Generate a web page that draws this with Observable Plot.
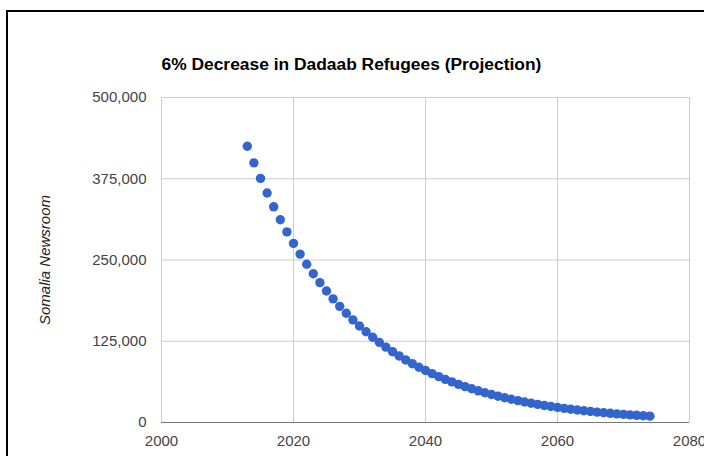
<!DOCTYPE html>
<html>
<head>
<meta charset="utf-8">
<script src="https://cdn.jsdelivr.net/npm/d3@7"></script>
<script src="https://cdn.jsdelivr.net/npm/@observablehq/plot@0.6"></script>
<style>
  html, body { margin: 0; padding: 0; background: #fff; overflow: hidden; width: 704px; height: 456px; }
  #wrap { position: relative; width: 704px; height: 456px; }
  #border { position: absolute; left: 6px; top: 10px; width: 900px; height: 700px; border: 2px solid #000; box-sizing: border-box; }
  #chart { position: absolute; left: 0; top: 0; }
</style>
</head>
<body>
<div id="wrap">
  <div id="border"></div>
  <div id="chart"></div>
</div>
<script>
const title = "6% Decrease in Dadaab Refugees (Projection)";
const yLabel = "Somalia Newsroom";
const years = [2013, 2014, 2015, 2016, 2017, 2018, 2019, 2020, 2021, 2022,
  2023, 2024, 2025, 2026, 2027, 2028, 2029, 2030, 2031, 2032,
  2033, 2034, 2035, 2036, 2037, 2038, 2039, 2040, 2041, 2042,
  2043, 2044, 2045, 2046, 2047, 2048, 2049, 2050, 2051, 2052,
  2053, 2054, 2055, 2056, 2057, 2058, 2059, 2060, 2061, 2062,
  2063, 2064, 2065, 2066, 2067, 2068, 2069, 2070, 2071, 2072,
  2073, 2074];
const refugees = [425000, 399500, 375530, 352998, 331818, 311909, 293195, 275603, 259067, 243523,
  228911, 215177, 202266, 190130, 178722, 167999, 157919, 148444, 139537, 131165,
  123295, 115897, 108944, 102407, 96263, 90487, 85058, 79954, 75157, 70648,
  66409, 62424, 58679, 55158, 51849, 48738, 45813, 43065, 40481, 38052,
  35769, 33623, 31605, 29709, 27926, 26251, 24676, 23195, 21803, 20495,
  19266, 18110, 17023, 16002, 15042, 14139, 13291, 12493, 11744, 11039,
  10377, 9754];
const xTicks = [2000, 2020, 2040, 2060, 2080];
const yTicks = [0, 125000, 250000, 375000, 500000];

const data = years.map((year, i) => ({year, value: refugees[i]}));
const fmt = d3.format(",");

const chart = Plot.plot({
  width: 704,
  height: 456,
  marginLeft: 161,
  marginRight: 15,
  marginTop: 97,
  marginBottom: 34,
  style: {fontFamily: "'Liberation Sans', Arial, sans-serif", fontSize: "15px", background: "transparent", overflow: "visible"},
  x: {domain: [2000, 2080]},
  y: {domain: [0, 500000]},
  marks: [
    Plot.gridX(xTicks, {stroke: "#cccccc", strokeOpacity: 1}),
    Plot.gridY(yTicks, {stroke: "#cccccc", strokeOpacity: 1}),
    Plot.ruleY([0], {stroke: "#777", strokeWidth: 1.2}),
    Plot.axisX(xTicks, {tickSize: 0, tickPadding: 13, tickFormat: d => String(d), fill: "#444", label: null, fontSize: 15}),
    Plot.axisY(yTicks, {tickSize: 0, tickPadding: 15, tickFormat: fmt, fill: "#444", label: null, fontSize: 15}),
    Plot.dot(data, {x: "year", y: "value", r: 4.7, fill: "#3366cc", stroke: "none"}),
    Plot.text([title], {text: d => d, frameAnchor: "top-left", dy: -28, lineAnchor: "bottom", textAnchor: "start", fontWeight: "bold", fontSize: 17.4, fill: "#000"}),
    Plot.text([yLabel], {text: d => d, frameAnchor: "left", dx: -116, rotate: -90, textAnchor: "middle", lineAnchor: "middle", fontStyle: "italic", fontSize: 15, fill: "#222"})
  ]
});
document.getElementById("chart").appendChild(chart);
</script>
</body>
</html>
